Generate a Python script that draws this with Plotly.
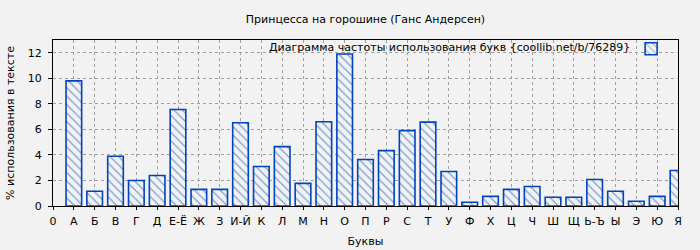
import plotly.graph_objects as go

tick_labels = ["0", "А", "Б", "В", "Г", "Д", "Е-Ё", "Ж", "З", "И-Й", "К", "Л", "М", "Н", "О",
               "П", "Р", "С", "Т", "У", "Ф", "Х", "Ц", "Ч", "Ш", "Щ", "Ь-Ъ", "Ы", "Э", "Ю", "Я"]
letters = tick_labels[1:]
values = [9.8, 1.15, 3.9, 2.0, 2.39, 7.56, 1.3, 1.3, 6.52, 3.09, 4.65, 1.77, 6.6, 11.9,
          3.64, 4.34, 5.9, 6.57, 2.7, 0.29, 0.75, 1.3, 1.53, 0.68, 0.68, 2.08, 1.15, 0.37, 0.75, 2.78]

title = "Принцесса на горошине (Ганс Андерсен)"
legend_text = "Диаграмма частоты использования букв {coollib.net/b/76289}"
x_title = "Буквы"
y_title = "% использования в тексте"

blue = "#0044bb"
bg = "#f2f2f2"
font = dict(family="DejaVu Sans", size=11, color="#000000")

positions = list(range(1, len(letters) + 1))

fig = go.Figure()
fig.add_trace(go.Bar(
    x=positions, y=values, width=0.75, name=" ",
    marker=dict(color=bg, line=dict(color=blue, width=1.6),
                pattern=dict(shape="\\", fgcolor=blue, bgcolor=bg, size=6, solidity=0.2)),
    showlegend=True, hoverinfo="y",
))

fig.update_layout(
    width=700, height=250,
    margin=dict(l=53, r=21.5, t=39.5, b=44, autoexpand=False),
    paper_bgcolor=bg, plot_bgcolor=bg,
    font=font,
    title=dict(text=title, x=0.5, xref="paper", xanchor="center", y=0.924, yanchor="middle",
               font=font),
    showlegend=True,
    legend=dict(x=0.925, xanchor="left", y=1.035, yanchor="top", bgcolor="rgba(0,0,0,0)",
                borderwidth=0, font=font, itemwidth=30),
    bargap=0.25,
)
fig.add_annotation(text=legend_text, xref="paper", yref="paper", x=0.926, y=0.956,
                   xanchor="right", yanchor="middle", showarrow=False, font=font)

fig.update_xaxes(
    range=[0, 30], tickmode="array", tickvals=list(range(len(tick_labels))), ticktext=tick_labels,
    showline=True, linecolor="#000", linewidth=1, mirror=True,
    ticks="outside", ticklen=3, tickcolor="#000", ticklabelstandoff=2,
    showgrid=True, gridcolor="#a0a0a0", griddash="dot", gridwidth=1,
    title=dict(text=x_title, standoff=10, font=font), zeroline=False, automargin=False,
)
fig.update_yaxes(
    range=[0, 13], tickvals=[0, 2, 4, 6, 8, 10, 12],
    showline=True, linecolor="#000", linewidth=1, mirror=True,
    ticks="outside", ticklen=4, tickcolor="#000", ticklabelstandoff=4,
    showgrid=True, gridcolor="#a0a0a0", griddash="dot", gridwidth=1,
    title=dict(text=y_title, standoff=10, font=font), zeroline=False, automargin=False,
)

fig.write_html("out.html")
